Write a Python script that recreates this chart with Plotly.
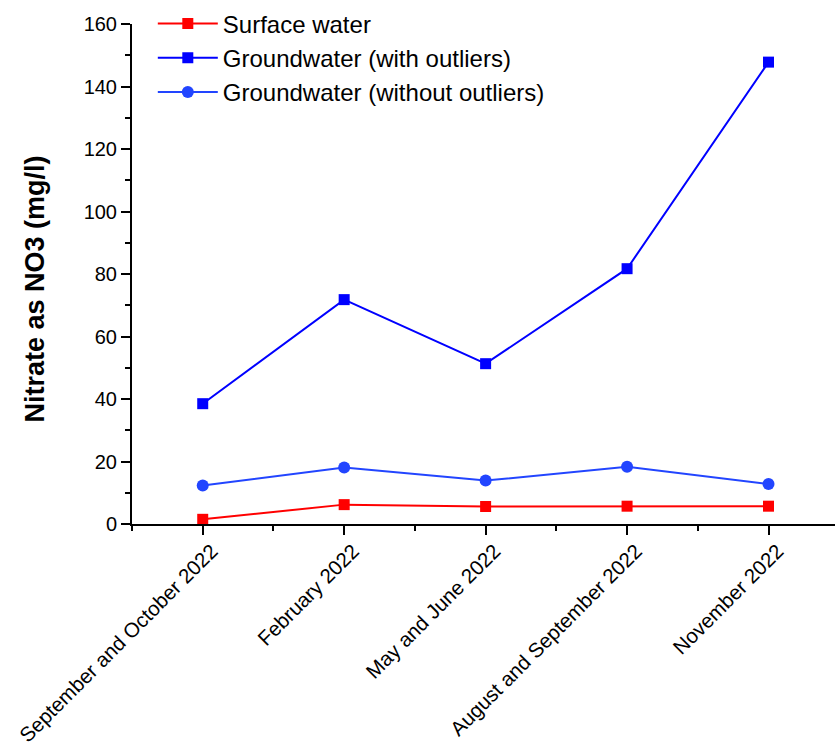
import plotly.graph_objects as go

# Sampling periods (x categories)
periods = [
    "September and October 2022",
    "February 2022",
    "May and June 2022",
    "August and September 2022",
    "November 2022",
]

# Mean nitrate concentration, mg/l as NO3
surface_water = [1.5, 6.2, 5.6, 5.7, 5.7]
groundwater_with_outliers = [38.5, 71.8, 51.3, 81.7, 147.8]
groundwater_without_outliers = [12.3, 18.1, 13.9, 18.3, 12.8]

y_tick_values = [0, 20, 40, 60, 80, 100, 120, 140, 160]

x_pos = list(range(len(periods)))

fig = go.Figure()

fig.add_trace(go.Scatter(
    x=x_pos, y=surface_water, mode="lines+markers",
    name="Surface water",
    line=dict(color="#FF0000", width=2),
    marker=dict(symbol="square", size=11, color="#FF0000"),
))
fig.add_trace(go.Scatter(
    x=x_pos, y=groundwater_with_outliers, mode="lines+markers",
    name="Groundwater (with outliers)",
    line=dict(color="#0000FF", width=2),
    marker=dict(symbol="square", size=11, color="#0000FF"),
))
fig.add_trace(go.Scatter(
    x=x_pos, y=groundwater_without_outliers, mode="lines+markers",
    name="Groundwater (without outliers)",
    line=dict(color="#2245FF", width=2),
    marker=dict(symbol="circle", size=12, color="#2245FF"),
))

font_family = "Arial, Liberation Sans, sans-serif"
axis_font = dict(family=font_family, size=20, color="black")

fig.update_layout(
    width=835, height=753,
    margin=dict(l=132, r=0, t=24, b=229, autoexpand=False),
    paper_bgcolor="white", plot_bgcolor="white",
    font=dict(family=font_family, color="black"),
    showlegend=True,
    legend=dict(
        xref="container", yref="container",
        x=0.183, y=0.998, xanchor="left", yanchor="top",
        font=dict(size=24, color="black"),
        bgcolor="rgba(255,255,255,0)",
        itemwidth=60,
        tracegroupgap=0,
    ),
    xaxis=dict(
        range=[-0.5, 4.47],
        tickmode="array", tickvals=x_pos, ticktext=periods,
        tickangle=-45, tickfont=dict(axis_font, size=20.5),
        ticklabelshift=9, ticklabelstandoff=-4,
        showline=True, linecolor="black", linewidth=2,
        ticks="outside", ticklen=9, tickwidth=2, tickcolor="black",
        minor=dict(tickmode="linear", tick0=0.5, dtick=1, ticks="outside",
                   ticklen=5, tickwidth=2, tickcolor="black"),
        showgrid=False, zeroline=False,
    ),
    yaxis=dict(
        range=[0, 160],
        tickmode="array", tickvals=y_tick_values,
        tickfont=axis_font,
        showline=True, linecolor="black", linewidth=2,
        ticks="outside", ticklen=9, tickwidth=2, tickcolor="black",
        minor=dict(tickmode="linear", tick0=0, dtick=10, ticks="outside",
                   ticklen=5, tickwidth=2, tickcolor="black"),
        showgrid=False, zeroline=False,
    ),
    annotations=[dict(
        text="<b>Nitrate as NO3 (mg/l)</b>",
        xref="paper", yref="paper", x=-0.138, y=0.471,
        xanchor="center", yanchor="middle", textangle=-90,
        showarrow=False,
        font=dict(family=font_family, size=27, color="black"),
    )],
)

fig.write_html("out.html")
